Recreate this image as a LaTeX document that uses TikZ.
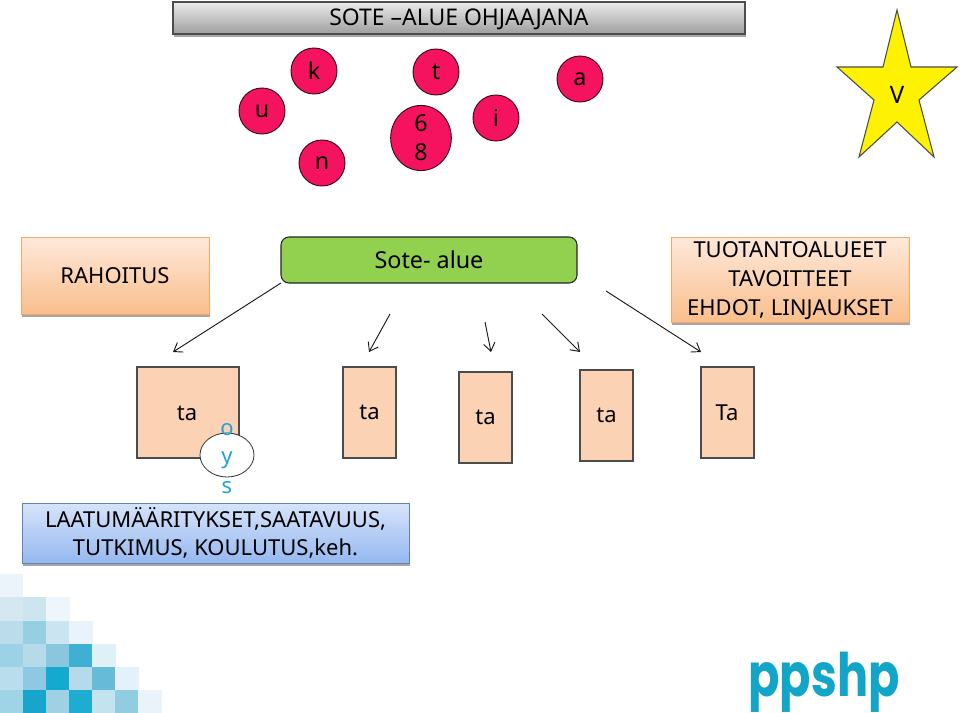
\documentclass[tikz,border=0pt]{standalone}
\usepackage{fontspec}
\setmainfont{Noto Sans}
\newfontfamily\logofont[FakeStretch=0.77]{Poppins}
\usetikzlibrary{shadows,arrows.meta,shapes.geometric}
\definecolor{pinkc}{HTML}{F5135F}
\definecolor{peach}{HTML}{FBD2B4}
\definecolor{greenc}{HTML}{92D050}
\definecolor{cyanc}{HTML}{1FA3D8}
\definecolor{logoc}{HTML}{12A5C8}
\definecolor{orangetop}{HTML}{FEE9DA}
\definecolor{orangebot}{HTML}{F9BE8C}
\definecolor{bluetop}{HTML}{D6E4FA}
\definecolor{bluebot}{HTML}{96B8F0}
\definecolor{blueline}{HTML}{5B84B1}
\definecolor{orangeline}{HTML}{F2A868}
\tikzset{
  x=0.75pt,y=-0.75pt,
  softshadow/.style={drop shadow={shadow xshift=0.6pt,shadow yshift=-2pt,fill=black,opacity=0.35}},
  dot/.style={circle,draw=black!75!pinkc,fill=pinkc,line width=0.7pt,minimum size=34.5pt,inner sep=0pt,font=\fontsize{17.5}{18}\selectfont},
  orangebox/.style={rectangle,draw=orangeline,line width=0.6pt,top color=orangetop,bottom color=orangebot,inner sep=0pt,softshadow,align=center,font=\fontsize{16.5}{21.7}\selectfont},
  tabox/.style={rectangle,draw=black!70,line width=0.8pt,fill=peach,inner sep=0pt,font=\fontsize{16.5}{18}\selectfont},
  conn/.style={draw=black!90,line width=0.7pt,-{Straight Barb[length=6pt,width=8.5pt]}},
  tile/.style={draw=none,minimum width=17.4pt,minimum height=17.4pt,inner sep=0pt},
  bluetext/.style={text=cyanc,anchor=base,inner sep=0pt,font=\fontsize{16.5}{18}\selectfont},
}
\newcommand{\pxbox}[6]{%
  \node[#1,minimum width={(#4-#3)*0.75pt},minimum height={(#6-#5)*0.75pt}] (#2) at ({(#3+#4)/2},{(#5+#6)/2})}
\begin{document}
\begin{tikzpicture}
\useasboundingbox (0,0) rectangle (960,713);
% tiles
\foreach \n/\cx/\cy/\c in {
 a/11/586/EAF4FA,
 b/11/609/D5E8F1,c/35/609/CDE5F0,d/58/609/EEF5FB,
 e/11/633/BBDCEB,f/35/633/94CFE2,g/58/633/CBE5F0,h/81/633/EAF3FC,
 i/11/656/9BD2E5,j/35/656/B5DAEA,k/58/656/8AC7DF,l/81/656/3FB0D3,m/104/656/E0F0F7,
 o/11/679/B9DDEC,p/35/679/8DC9E0,q/58/679/14A9CE,r/81/679/B5DAEA,s/104/679/67BBD8,t/127/679/E4F1FA,
 u/11/702/9FD3E6,v/35/702/18A5CC,w/58/702/9FD0E4,x/81/702/1EADD1,y/104/702/C5E3EF,z/127/702/90CCE2,aa/150/702/EAF3FA}{
  \definecolor{tc}{HTML}{\c}
  \node[tile,fill=tc] (tile\n) at (\cx,\cy) {};
}
% title
\pxbox{rectangle,draw=black!70,line width=1pt,top color=black!8,bottom color=black!38,inner sep=0pt,softshadow}{title}{173}{745}{2}{34} {};
\node[font=\fontsize{17.2}{18}\selectfont,inner sep=0pt] (titletext) at (459,19) {SOTE –ALUE OHJAAJANA};
% circles
\node[dot] (k) at (314,71) {k};
\node[dot] (t) at (436,72) {t};
\node[dot] (a) at (580,79) {a};
\node[dot] (u) at (262,111) {u};
\node[dot] (i) at (496,118) {i};
\node[dot] (n) at (322,163) {n};
\node[dot,ellipse,minimum width=45.5pt,minimum height=40.5pt,align=center,font=\fontsize{17.5}{21.7}\selectfont] (six) at (421,138) {6\\8};
% star
\coordinate (s1) at (897,10);
\coordinate (s2) at (911,67);
\coordinate (s3) at (957,67);
\coordinate (s4) at (919,100);
\coordinate (s5) at (934,157);
\coordinate (s6) at (897,122);
\coordinate (s7) at (859,157);
\coordinate (s8) at (874,100);
\coordinate (s9) at (837,67);
\coordinate (s10) at (883,67);
\draw[fill=yellow,draw=black!70,line width=0.8pt,line join=miter] (s1)--(s2)--(s3)--(s4)--(s5)--(s6)--(s7)--(s8)--(s9)--(s10)--cycle;
\node[font=\fontsize{18}{18}\selectfont] (vv) at (897,95) {V};
% upper boxes
\pxbox{orangebox}{rah}{21}{209}{237}{314} {RAHOITUS};
\pxbox{rectangle,rounded corners=6pt,draw=black!85,line width=0.8pt,fill=greenc,inner sep=0pt,font=\fontsize{17.5}{18}\selectfont}{sote}{281}{577}{237}{283} {Sote- alue};
\pxbox{orangebox}{tuot}{671}{909}{237}{322} {};
\node[align=center,inner sep=0pt,font=\fontsize{16.5}{21.7}\selectfont] (tuottext) at (790,281) {TUOTANTOALUEET\\TAVOITTEET\\EHDOT, LINJAUKSET};
% ta boxes
\pxbox{tabox}{ta1}{137}{239}{367}{458} {};
\node[font=\fontsize{16.5}{18}\selectfont] (ta1t) at (187,413) {ta};
\pxbox{tabox}{ta2}{343}{396}{367}{458} {ta};
\pxbox{tabox}{ta3}{459}{512}{372}{463} {ta};
\pxbox{tabox}{ta4}{580}{633}{370}{461} {ta};
\pxbox{tabox}{ta5}{701}{754}{367}{458} {};
\node[font=\fontsize{16.5}{18}\selectfont] (ta5t) at (727,413) {Ta};
% ellipse
\draw[fill=white,draw=black!80,line width=0.6pt] (227,455) ellipse [x radius=27,y radius=22];
\node[bluetext] (ol) at (227,435) {o};
\node[bluetext] (yl) at (227,463) {y};
\node[bluetext] (sl) at (227,493) {s};
% quality box
\pxbox{rectangle,draw=blueline,line width=0.6pt,top color=bluetop,bottom color=bluebot,inner sep=0pt,softshadow,align=center,font=\fontsize{16.5}{21}\selectfont}{laatu}{22}{409}{503}{563} {LAATUMÄÄRITYKSET,SAATAVUUS,\\TUTKIMUS, KOULUTUS,keh.};
% connectors
\coordinate (c1) at (281,283); \coordinate (e1) at (173,352);
\coordinate (c2) at (390,314); \coordinate (e2) at (369,352);
\coordinate (c3) at (485,322); \coordinate (e3) at (491,352);
\coordinate (c4) at (542,314); \coordinate (e4) at (580,352);
\coordinate (c5) at (606,291); \coordinate (e5) at (701,352);
\draw[conn] (c1)--(e1);
\draw[conn] (c2)--(e2);
\draw[conn] (c3)--(e3);
\draw[conn] (c4)--(e4);
\draw[conn] (c5)--(e5);
% logo
\node[text=logoc,font=\logofont\bfseries\fontsize{45}{50}\selectfont,inner sep=0pt,anchor=base] (logo) at (824,696) {ppshp};
\end{tikzpicture}
\end{document}
